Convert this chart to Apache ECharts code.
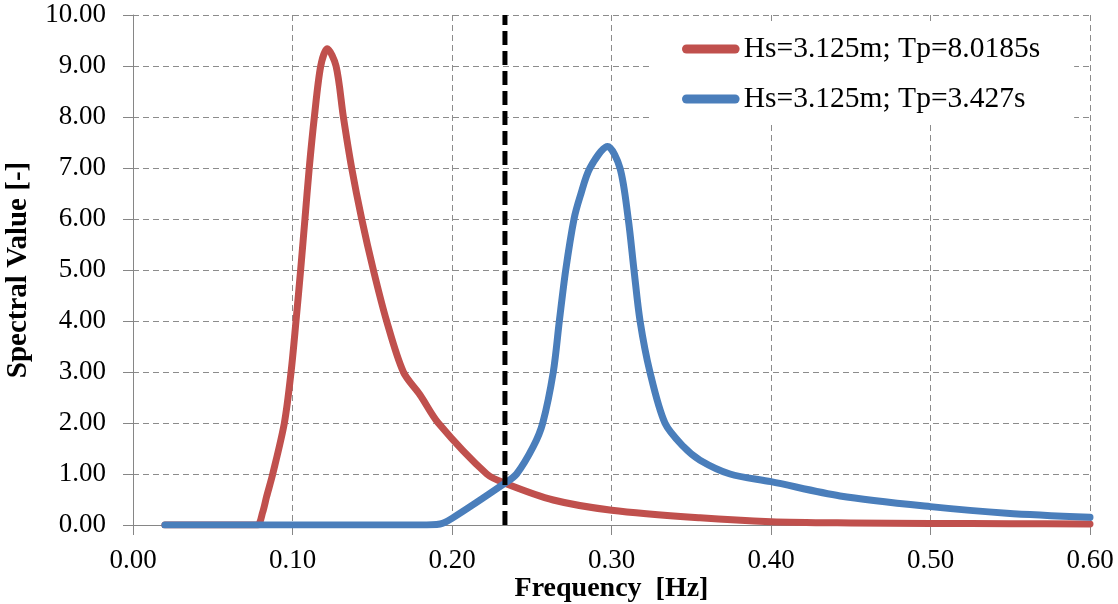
<!DOCTYPE html>
<html>
<head>
<meta charset="utf-8">
<script src="https://cdn.jsdelivr.net/npm/echarts@6/dist/echarts.min.js"></script>
<style>
html,body{margin:0;padding:0;background:#fff;}
#chart{width:1118px;height:604px;}
</style>
</head>
<body>
<div id="chart"></div>
<script>
// Series names
var seriesNames = ['Hs=3.125m; Tp=8.0185s', 'Hs=3.125m; Tp=3.427s'];

// Red spectrum (Tp=8.0185s): frequency [Hz] and spectral value
var redFreq  = [0.02, 0.07, 0.078, 0.0813, 0.0838, 0.0876, 0.0949, 0.0991, 0.1022, 0.1051, 0.1078, 0.1105, 0.1137, 0.1177, 0.1218, 0.1273, 0.1319, 0.1371, 0.1434, 0.1507, 0.1590, 0.1695, 0.180, 0.1914, 0.2218, 0.2332, 0.2635, 0.3001, 0.3555, 0.400, 0.450, 0.500, 0.550, 0.600];
var redValue = [0.00, 0.00, 0.00, 0.25, 0.56, 1.00, 2.00, 3.00, 4.00, 5.00, 6.00, 7.00, 8.00, 9.00, 9.34, 9.00, 8.00, 7.00, 6.00, 5.00, 4.00, 3.00, 2.55, 2.00, 1.00, 0.82, 0.49, 0.29, 0.14, 0.065, 0.04, 0.03, 0.025, 0.02];

// Blue spectrum (Tp=3.427s)
var blueFreq  = [0.02, 0.18, 0.1925, 0.200, 0.2332, 0.2405, 0.251, 0.2569, 0.2635, 0.2673, 0.2713, 0.2765, 0.2803, 0.2865, 0.2976, 0.3053, 0.3105, 0.3141, 0.3179, 0.3241, 0.3335, 0.345, 0.3555, 0.3743, 0.400, 0.4433, 0.500, 0.5478, 0.600];
var blueValue = [0.00, 0.00, 0.02, 0.13, 0.82, 1.00, 1.54, 2.00, 3.00, 4.00, 5.00, 6.00, 6.44, 7.00, 7.42, 7.00, 6.00, 5.00, 4.00, 3.00, 2.00, 1.54, 1.27, 1.00, 0.85, 0.57, 0.36, 0.23, 0.15];

// Vertical cut-off marker
var cutoffFreq = [0.2332, 0.2332];
var cutoffValue = [0, 10];

// Axis definitions
var xAxisRange = [0, 0.6, 0.1];
var yAxisRange = [0, 10, 1];
var xAxisTitle = 'Frequency  [Hz]';
var yAxisTitle = 'Spectral Value [-]';

function zip(a, b) { return a.map(function (v, i) { return [v, b[i]]; }); }

var serif = "'Liberation Serif', 'Times New Roman', serif";
var gridCol = '#8c8c8c';
var axisCol = '#868686';
var legendIcon = 'path://M5,0 H59 A5,5 0 0 1 59,10 H5 A5,5 0 0 1 5,0 Z';

var chart = echarts.init(document.getElementById('chart'), null, {renderer: 'canvas'});
chart.setOption({
  animation: false,
  backgroundColor: '#fff',
  grid: {left: 133, right: 28, top: 15, bottom: 79, containLabel: false, outerBoundsMode: 'none'},
  legend: {
    orient: 'vertical',
    left: 650, top: 23,
    backgroundColor: '#fff',
    padding: [10, 34, 7, 32],
    itemGap: 18,
    itemWidth: 64, itemHeight: 9,
    data: [
      {name: seriesNames[0], icon: legendIcon},
      {name: seriesNames[1], icon: legendIcon}
    ],
    textStyle: {fontFamily: serif, fontSize: 29.5, color: '#000', lineHeight: 30, padding: [2, 0, 0, -4]}
  },
  xAxis: {
    type: 'value', min: xAxisRange[0], max: xAxisRange[1], interval: xAxisRange[2],
    name: xAxisTitle, nameLocation: 'middle', nameGap: 50, nameMoveOverlap: false,
    nameTextStyle: {fontFamily: serif, fontSize: 28, fontWeight: 'bold', color: '#000'},
    axisLine: {lineStyle: {color: axisCol, width: 1}},
    axisTick: {show: true, length: 10, lineStyle: {color: axisCol}},
    axisLabel: {formatter: function (v) { return v.toFixed(2); }, fontFamily: serif, fontSize: 27, color: '#000', margin: 22},
    splitLine: {show: true, lineStyle: {type: [6, 4], color: gridCol, width: 1}}
  },
  yAxis: {
    type: 'value', min: yAxisRange[0], max: yAxisRange[1], interval: yAxisRange[2],
    name: yAxisTitle, nameLocation: 'middle', nameGap: 100, nameMoveOverlap: false,
    nameTextStyle: {fontFamily: serif, fontSize: 29, fontWeight: 'bold', color: '#000'},
    axisLine: {show: true, lineStyle: {color: axisCol, width: 1}},
    axisTick: {show: true, length: 10, lineStyle: {color: axisCol}},
    axisLabel: {formatter: function (v) { return v.toFixed(2); }, fontFamily: serif, fontSize: 27, color: '#000', margin: 27},
    splitLine: {show: true, lineStyle: {type: [6, 4], color: gridCol, width: 1}}
  },
  series: [
    {
      name: seriesNames[0], type: 'line', data: zip(redFreq, redValue),
      smooth: 0.3, showSymbol: false, symbol: 'none',
      color: '#C0504D',
      lineStyle: {color: '#C0504D', width: 7, cap: 'round', join: 'round'}, z: 3
    },
    {
      name: seriesNames[1], type: 'line', data: zip(blueFreq, blueValue),
      smooth: 0.3, showSymbol: false, symbol: 'none',
      color: '#4A7EBB',
      lineStyle: {color: '#4A7EBB', width: 7, cap: 'round', join: 'round'}, z: 4
    },
    {
      name: 'cutoff', type: 'line', data: zip(cutoffFreq, cutoffValue),
      showSymbol: false, symbol: 'none', silent: true,
      lineStyle: {color: '#000', width: 5, type: [14, 6]}, z: 5
    }
  ]
});
</script>
</body>
</html>
